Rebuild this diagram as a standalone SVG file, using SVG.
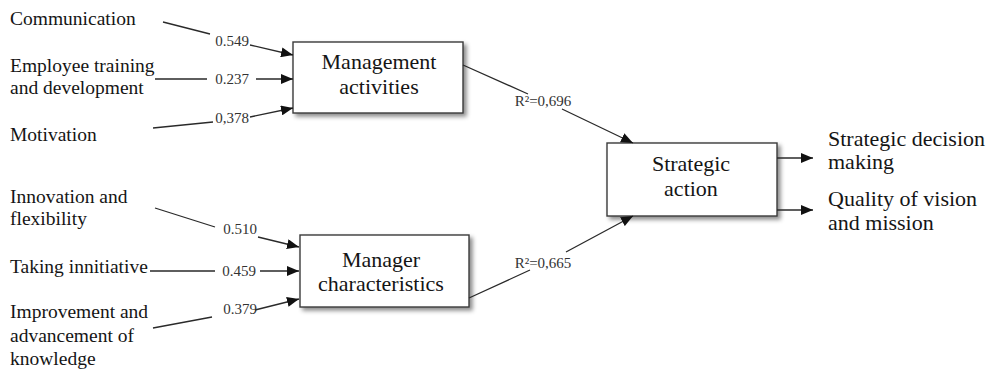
<svg xmlns="http://www.w3.org/2000/svg" width="999" height="369" viewBox="0 0 999 369" font-family="'Liberation Serif', 'Times New Roman', 'DejaVu Serif', serif">
<defs>
<style>
text{font-family:'Liberation Serif','Times New Roman','DejaVu Serif',serif}
.lbl{font-size:19.5px;fill:#151515}
.box{fill:#fff;stroke:#3a3a3a;stroke-width:1.4}
.bt{font-size:22px;fill:#151515;text-anchor:middle}
.rt{font-size:22px;fill:#151515}
.num{font-size:15px;fill:#333;text-anchor:middle}
.ln{fill:none;stroke:#2a2a2a;stroke-width:1.3;marker-end:url(#ah)}
</style>
<marker id="ah" viewBox="0 0 12 10" refX="12" refY="5" markerWidth="12" markerHeight="10" markerUnits="userSpaceOnUse" orient="auto">
<path d="M0,0 L12,5 L0,10 z" fill="#111"/>
</marker>
<filter id="sh" x="-10%" y="-10%" width="125%" height="130%">
<feDropShadow dx="3" dy="3" stdDeviation="2" flood-color="#000" flood-opacity="0.45"/>
</filter>
</defs>

<g id="inputs">
<text class="lbl" x="10" y="25">Communication</text>
<text class="lbl" x="10" y="72">Employee training</text>
<text class="lbl" x="10" y="94">and development</text>
<text class="lbl" x="10" y="141">Motivation</text>
<text class="lbl" x="10" y="203">Innovation and</text>
<text class="lbl" x="10" y="225">flexibility</text>
<text class="lbl" x="10" y="273">Taking innitiative</text>
<text class="lbl" x="10" y="318">Improvement and</text>
<text class="lbl" x="10" y="342">advancement of</text>
<text class="lbl" x="10" y="365">knowledge</text>
</g>

<g id="management-activities">
<rect class="box" x="293" y="42" width="170" height="71" filter="url(#sh)"/>
<text class="bt" x="379" y="69">Management</text>
<text class="bt" x="379" y="94">activities</text>
</g>

<g id="manager-characteristics">
<rect class="box" x="300" y="235" width="169" height="72" filter="url(#sh)"/>
<text class="bt" x="381" y="267">Manager</text>
<text class="bt" x="381" y="291">characteristics</text>
</g>

<g id="strategic-action">
<rect class="box" x="607" y="143" width="170" height="73" filter="url(#sh)"/>
<text class="bt" x="691" y="171">Strategic</text>
<text class="bt" x="691" y="196">action</text>
</g>

<g id="outputs">
<text class="rt" x="828" y="146">Strategic decision</text>
<text class="rt" x="828" y="169">making</text>
<text class="rt" x="828" y="206">Quality of vision</text>
<text class="rt" x="828" y="230">and mission</text>
</g>

<g id="connectors">
<path class="ln" d="M163,22 L210,34 M250,45 L293,55"/>
<path class="ln" d="M155,79 L207,79 M256,79 L293,79"/>
<path class="ln" d="M153,128 L213,122 M250,117 L293,108"/>
<path class="ln" d="M155,208 L215,227 M258,237 L299,247"/>
<path class="ln" d="M150,271 L215,271 M260,271 L299,271"/>
<path class="ln" d="M153,328 L212,317 M255,310 L299,299"/>
<path class="ln" d="M463,65 L528,94 M562,109 L633,143"/>
<path class="ln" d="M469,298 L530,270 M566,252 L633,216"/>
<path class="ln" d="M777,158 L813,158"/>
<path class="ln" d="M777,210 L813,210"/>
<text class="num" x="232" y="46">0.549</text>
<text class="num" x="232" y="84">0.237</text>
<text class="num" x="232" y="123">0,378</text>
<text class="num" x="240" y="234">0.510</text>
<text class="num" x="239" y="276">0.459</text>
<text class="num" x="240" y="314">0.379</text>
<text class="num" x="543" y="106">R²=0,696</text>
<text class="num" x="543" y="268">R²=0,665</text>
</g>
</svg>
